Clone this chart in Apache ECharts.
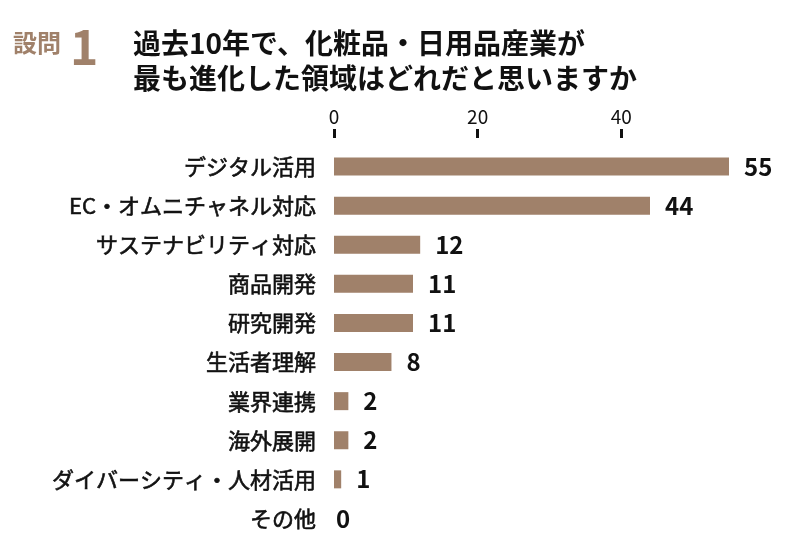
<!DOCTYPE html>
<html>
<head>
<meta charset="utf-8">
<script src="https://cdn.jsdelivr.net/npm/echarts@6/dist/echarts.min.js"></script>
<style>
html, body { margin: 0; padding: 0; background: #fff; }
#main { width: 800px; height: 548px; }
</style>
</head>
<body>
<div id="main"></div>
<script>
// 設問1 の回答数
var categories = ['デジタル活用', 'EC・オムニチャネル対応', 'サステナビリティ対応', '商品開発', '研究開発',
    '生活者理解', '業界連携', '海外展開', 'ダイバーシティ・人材活用', 'その他'];
var counts = [55, 44, 12, 11, 11, 8, 2, 2, 1, 0];
var tickValues = [0, 20, 40];

var font = '"Noto Sans CJK JP", "Noto Sans", sans-serif';
var barColor = '#a0816a';

// 0件の項目はラベルを軸の際に置く
var barData = counts.map(function (v) {
    return v === 0 ? { value: v, label: { distance: 2 } } : v;
});

var myChart = echarts.init(document.getElementById('main'));
var option = {
    backgroundColor: '#fff',
    title: [
        {
            text: '設問',
            left: 13, top: 28, padding: 0,
            textStyle: { color: barColor, fontSize: 24, fontWeight: 'bold', fontFamily: font, lineHeight: 30 }
        },
        {
            text: '1',
            left: 70, top: 20, padding: 0,
            textStyle: { color: barColor, fontSize: 48, fontWeight: 'bold', fontFamily: font, lineHeight: 54 }
        },
        {
            text: '過去10年で、化粧品・日用品産業が\n最も進化した領域はどれだと思いますか',
            left: 133, top: 26, padding: 0,
            textStyle: { color: '#111', fontSize: 28, fontWeight: 'bold', fontFamily: font, lineHeight: 35 }
        }
    ],
    grid: { left: 334, right: 71, top: 147, bottom: 10, containLabel: false },
    xAxis: {
        type: 'value',
        position: 'top',
        offset: 9,
        min: 0,
        max: 55,
        axisLine: { show: false },
        splitLine: { show: false },
        axisTick: {
            show: true, length: 9, inside: false,
            customValues: tickValues,
            lineStyle: { color: '#111', width: 3 }
        },
        axisLabel: {
            customValues: tickValues,
            margin: 12,
            color: '#111', fontSize: 19, fontFamily: font
        }
    },
    yAxis: {
        type: 'category',
        data: categories,
        inverse: true,
        axisLine: { show: false },
        axisTick: { show: false },
        axisLabel: {
            margin: 18, color: '#111', fontSize: 22, fontFamily: font,
            textBorderColor: '#111', textBorderWidth: 0.6
        }
    },
    series: [
        {
            type: 'bar',
            data: barData,
            barWidth: 18,
            itemStyle: { color: barColor },
            label: {
                show: true,
                position: 'right',
                distance: 15,
                color: '#111',
                fontSize: 24,
                fontWeight: 'bold',
                fontFamily: font
            }
        }
    ]
};
myChart.setOption(option);
</script>
</body>
</html>
